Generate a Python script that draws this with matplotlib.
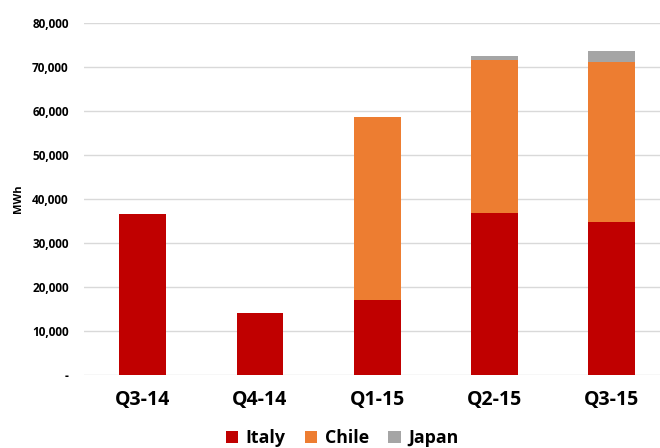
import matplotlib
matplotlib.use("Agg")
import matplotlib.pyplot as plt
from matplotlib.ticker import FuncFormatter
import numpy as np

plt.rcParams['font.family'] = ['Open Sans', 'DejaVu Sans']

quarters = ["Q3-14", "Q4-14", "Q1-15", "Q2-15", "Q3-15"]
italy = [36600, 14100, 17000, 36800, 34800]
chile = [0, 0, 41600, 34900, 36300]
japan = [0, 0, 0, 800, 2600]

colors = {"Italy": "#C00000", "Chile": "#ED7D31", "Japan": "#A5A5A5"}

fig = plt.figure(figsize=(6.6, 4.48), dpi=100)
ax = fig.add_axes([84 / 660, 1 - 375 / 448, 1 - 84 / 660, (375 - 23) / 448])

x = np.arange(len(quarters))
w = 0.4
it = np.array(italy)
ch = np.array(chile)
jp = np.array(japan)
ax.bar(x, it, w, color=colors["Italy"], label="Italy", zorder=3)
ax.bar(x, ch, w, bottom=it, color=colors["Chile"], label="Chile", zorder=3)
ax.bar(x, jp, w, bottom=it + ch, color=colors["Japan"], label="Japan", zorder=3)

ax.set_ylim(0, 80000)
ax.set_xlim(-0.5, 4.41)
ax.set_yticks(np.arange(0, 80001, 10000))
ax.yaxis.set_major_formatter(FuncFormatter(lambda v, p: "-" if v == 0 else f"{int(v):,}"))
ax.grid(axis="y", color="#D9D9D9", linewidth=1, zorder=0)
for s in ax.spines.values():
    s.set_visible(False)
ax.tick_params(axis="y", length=0, pad=11, labelsize=8.5)
ax.tick_params(axis="x", length=0, pad=11, labelsize=14)
for lab in ax.get_yticklabels():
    lab.set_fontweight("bold")
ax.set_xticks(x)
ax.set_xticklabels(quarters, fontweight="bold")
ax.set_ylabel("MWh", fontweight="bold", fontsize=8, labelpad=6)

leg = fig.legend(loc="center", bbox_to_anchor=(342 / 660, 1 - 438 / 448), ncol=3,
                 frameon=False, prop={"weight": "bold", "size": 12.8},
                 handlelength=0.7, handleheight=0.7, handletextpad=0.4, columnspacing=1.1)

fig.savefig("out.png", dpi=100)
